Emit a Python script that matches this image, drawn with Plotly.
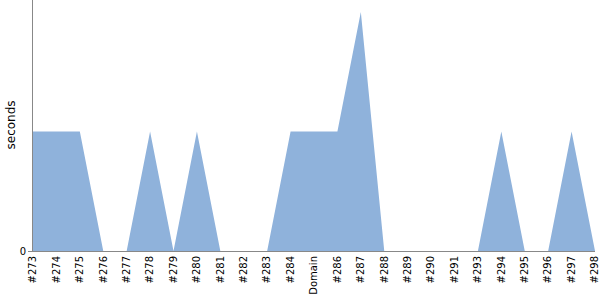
import plotly.graph_objects as go

categories = ["#273", "#274", "#275", "#276", "#277", "#278", "#279", "#280", "#281", "#282",
              "#283", "#284", "Domain", "#286", "#287", "#288", "#289", "#290", "#291", "#293",
              "#294", "#295", "#296", "#297", "#298"]
seconds = [1, 1, 1, 0, 0, 1, 0, 1, 0, 0, 0, 1, 1, 1, 2, 0, 0, 0, 0, 0, 1, 0, 0, 1, 0]

fig = go.Figure()
fig.add_trace(go.Scatter(
    x=list(range(len(categories))), y=seconds, mode="lines", fill="tozeroy",
    line=dict(width=0, color="#8fb2db"), fillcolor="#8fb2db", hoverinfo="skip",
))
fig.update_layout(
    width=600, height=300, margin=dict(l=33, r=5, t=0, b=49),
    paper_bgcolor="white", plot_bgcolor="white", showlegend=False,
    font=dict(family="DejaVu Sans", size=10, color="black"),
)
fig.update_xaxes(
    range=[0, len(categories) - 1], tickmode="array",
    tickvals=list(range(len(categories))), ticktext=categories,
    tickangle=-90, showgrid=False, zeroline=False,
    showline=True, linecolor="#888888", linewidth=1,
    ticks="", tickfont=dict(size=10), ticklabeloverflow="allow",
)
fig.update_yaxes(
    range=[0, 2.1], tickmode="array", tickvals=[0], ticktext=["0"],
    showgrid=False, zeroline=False, showline=True, linecolor="#888888", linewidth=1,
    ticks="outside", ticklen=4, tickcolor="#888888",
)
fig.add_annotation(
    text="seconds", xref="paper", yref="paper", x=0, y=0.5,
    xanchor="center", yanchor="middle", xshift=-23, textangle=-90,
    showarrow=False, font=dict(size=12, color="black"),
)
fig.write_html("out.html")
